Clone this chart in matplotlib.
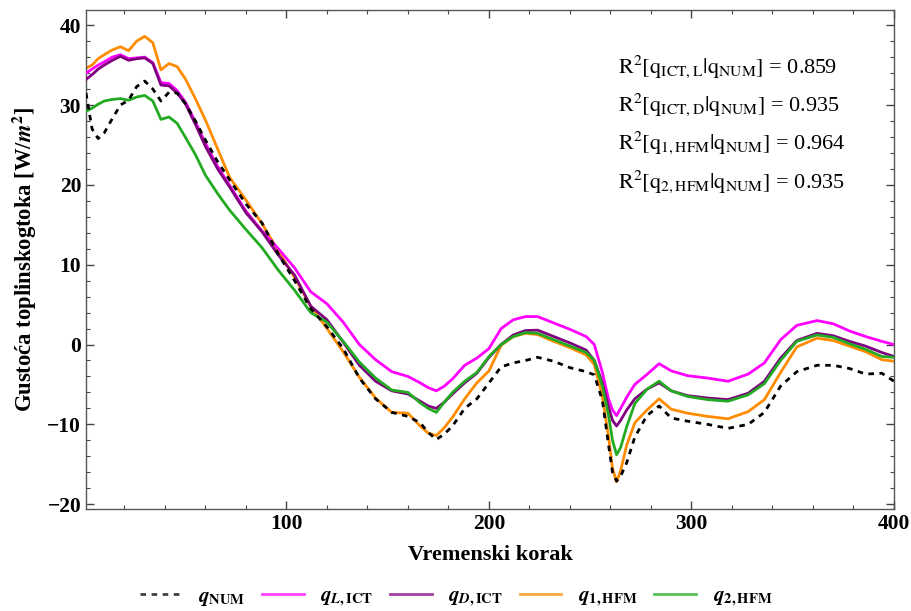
import matplotlib
matplotlib.use("Agg")
import matplotlib.pyplot as plt
from matplotlib.ticker import MultipleLocator

plt.rcParams['font.family'] = ['Liberation Serif', 'DejaVu Serif']
plt.rcParams['mathtext.fontset'] = 'stix'

x = [1, 4, 7, 10, 14, 18, 22, 26, 30, 34, 38, 42, 46, 50, 55, 60, 66, 72, 80, 88,
     96, 104, 112, 120, 128, 136, 144, 152, 160, 166, 170, 174, 178, 182, 188, 194,
     200, 206, 212, 218, 224, 232, 240, 248, 252, 256, 259, 261, 263, 265, 268, 272,
     278, 284, 290, 298, 308, 318, 328, 336, 344, 352, 362, 370, 378, 386, 394, 400]

q_num = [31.5, 27.0, 25.8, 26.5, 28.3, 30.0, 30.6, 32.3, 33.0, 32.0, 30.5, 31.6, 31.5, 30.2,
         28.0, 25.6, 22.9, 20.6, 17.6, 15.2, 11.3, 8.0, 4.5, 2.2, -0.5, -4.2, -6.8, -8.5,
         -9.0, -9.8, -11.0, -11.9, -11.2, -10.2, -8.0, -6.8, -4.8, -2.8, -2.3, -2.0, -1.6,
         -2.1, -2.9, -3.4, -3.8, -7.0, -12.5, -16.0, -17.1, -16.5, -14.8, -11.6, -8.9, -7.7,
         -9.2, -9.6, -10.0, -10.5, -10.0, -8.5, -5.2, -3.4, -2.6, -2.6, -3.0, -3.7, -3.6, -4.6]

q_l_ict = [34.0, 34.5, 35.0, 35.4, 36.0, 36.3, 35.8, 35.9, 36.0, 35.3, 32.8, 32.7, 31.8, 30.4,
           27.9, 25.2, 22.3, 19.9, 16.7, 14.2, 12.0, 9.6, 6.6, 5.1, 2.8, 0.0, -1.9, -3.4,
           -4.0, -4.8, -5.4, -5.8, -5.2, -4.3, -2.6, -1.7, -0.5, 2.0, 3.1, 3.5, 3.5,
           2.7, 1.9, 1.0, 0.0, -3.5, -6.8, -8.2, -8.9, -8.0, -6.6, -5.0, -3.75, -2.4,
           -3.3, -3.9, -4.2, -4.6, -3.7, -2.3, 0.6, 2.4, 3.0, 2.6, 1.7, 1.0, 0.4, 0.0]

q_d_ict = [33.2, 33.8, 34.5, 35.0, 35.6, 36.1, 35.6, 35.8, 35.9, 35.2, 32.5, 32.4, 31.5, 30.2,
           27.6, 24.8, 22.0, 19.7, 16.5, 14.1, 11.2, 8.7, 4.8, 3.1, 0.3, -2.6, -4.6, -5.8,
           -6.2, -7.1, -7.7, -8.0, -7.2, -6.2, -4.8, -3.6, -1.6, 0.0, 1.2, 1.75, 1.8,
           1.0, 0.2, -0.7, -2.0, -4.8, -7.8, -9.5, -10.2, -9.5, -8.2, -6.8, -5.6, -4.8,
           -5.8, -6.4, -6.7, -6.9, -6.1, -4.6, -1.7, 0.5, 1.4, 1.1, 0.4, -0.2, -1.0, -1.5]

q_1_hfm = [34.6, 35.0, 35.8, 36.3, 36.9, 37.3, 36.8, 38.0, 38.6, 37.8, 34.4, 35.2, 34.8, 33.3,
           30.8, 28.1, 24.5, 20.9, 18.1, 15.1, 11.7, 8.4, 4.8, 2.0, -0.9, -4.1, -6.7, -8.5,
           -8.6, -10.2, -11.1, -11.4, -10.4, -9.1, -6.8, -4.8, -3.3, -0.1, 1.0, 1.4, 1.25,
           0.4, -0.4, -1.3, -2.5, -6.5, -11.5, -15.5, -17.2, -15.8, -12.6, -9.8, -8.2, -6.8,
           -8.1, -8.6, -9.0, -9.3, -8.4, -6.9, -3.5, -0.3, 0.8, 0.5, -0.2, -0.9, -1.9, -2.1]

q_2_hfm = [29.2, 29.6, 30.1, 30.5, 30.7, 30.8, 30.6, 31.0, 31.2, 30.5, 28.2, 28.5, 27.7, 26.0,
           23.8, 21.2, 18.9, 16.8, 14.4, 12.1, 9.3, 6.8, 4.0, 2.8, 0.4, -2.2, -4.2, -5.7,
           -6.0, -7.3, -8.0, -8.5, -7.2, -6.0, -4.6, -3.5, -1.5, 0.0, 1.0, 1.5, 1.4,
           0.6, -0.2, -1.0, -2.0, -5.2, -8.8, -12.0, -13.8, -12.9, -10.3, -7.4, -5.6, -4.6,
           -5.8, -6.5, -6.9, -7.1, -6.3, -4.9, -2.0, 0.4, 1.2, 0.9, 0.1, -0.6, -1.5, -1.6]

labels = [r'$\boldsymbol{q}_{\mathbf{NUM}}$', r'$\boldsymbol{q}_{\boldsymbol{L}\mathbf{,ICT}}$',
          r'$\boldsymbol{q}_{\boldsymbol{D}\mathbf{,ICT}}$', r'$\boldsymbol{q}_{\mathbf{1,HFM}}$',
          r'$\boldsymbol{q}_{\mathbf{2,HFM}}$']

r2_lines = [r'$\mathrm{R}^{2}[\mathrm{q}_{\mathrm{ICT,L}}|\mathrm{q}_{\mathrm{NUM}}]$ = 0.859',
            r'$\mathrm{R}^{2}[\mathrm{q}_{\mathrm{ICT,D}}|\mathrm{q}_{\mathrm{NUM}}]$ = 0.935',
            r'$\mathrm{R}^{2}[\mathrm{q}_{1,\mathrm{HFM}}|\mathrm{q}_{\mathrm{NUM}}]$ = 0.964',
            r'$\mathrm{R}^{2}[\mathrm{q}_{2,\mathrm{HFM}}|\mathrm{q}_{\mathrm{NUM}}]$ = 0.935']

fig = plt.figure(figsize=(9.12, 6.11), dpi=100)
ax = fig.add_axes([86/912, 1-509/611, (894-86)/912, (509-10)/611])

lw = 2.0
ax.plot(x, q_num, color='black', lw=2.0, ls=(0, (2.0, 2.0)), label=labels[0], zorder=6)
ax.plot(x, q_l_ict, color='#ff00ff', lw=lw, label=labels[1], zorder=3)
ax.plot(x, q_d_ict, color='#800080', lw=lw, label=labels[2], zorder=4)
ax.plot(x, q_1_hfm, color='#ff8c00', lw=lw, label=labels[3], zorder=2)
ax.plot(x, q_2_hfm, color='#22aa22', lw=lw, label=labels[4], zorder=5)

ax.set_xlim(1, 400)
ax.set_ylim(-20.6, 41.9)
ax.xaxis.set_major_locator(MultipleLocator(100))
ax.xaxis.set_minor_locator(MultipleLocator(20))
ax.yaxis.set_major_locator(MultipleLocator(10))
ax.yaxis.set_minor_locator(MultipleLocator(2))
ax.tick_params(which='both', direction='in', top=True, right=True, colors='#444444',
               labelcolor='black')
ax.tick_params(which='major', length=6, width=1)
ax.tick_params(which='minor', length=3, width=0.8)
for s in ax.spines.values():
    s.set_color('#555555')
    s.set_linewidth(1.0)
for lab in ax.get_xticklabels() + ax.get_yticklabels():
    lab.set_fontweight('bold')
    lab.set_fontsize(15.5)

ax.set_xlabel('Vremenski korak', fontsize=16, fontweight='bold', labelpad=8)
ax.set_ylabel(r'Gustoća toplinskogtoka [W/$\boldsymbol{m}^{\mathbf{2}}$]', fontsize=16.3,
              fontweight='bold', labelpad=6)

ys = [67, 105, 143, 182]
for t, yy in zip(r2_lines, ys):
    fig.text(618/912, 1-yy/611, t, fontsize=16, ha='left', va='center')

leg = fig.legend(loc='center', bbox_to_anchor=(0.5, 1-598/611), ncol=5, frameon=False,
                 fontsize=15, handlelength=2.0, handletextpad=0.8, columnspacing=0.8)
for h in leg.legend_handles:
    h.set_alpha(0.75)

fig.savefig('out.png', dpi=100)
